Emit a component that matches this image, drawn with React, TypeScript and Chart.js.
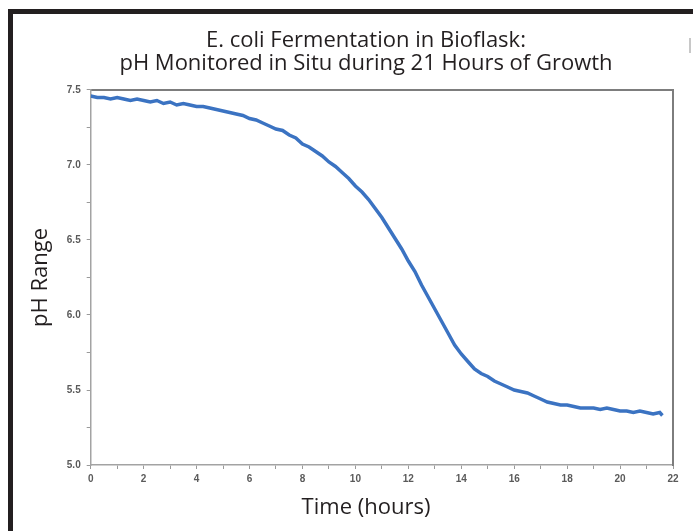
import React, { useEffect, useRef } from "react";
import { Chart, registerables } from "chart.js";

Chart.register(...registerables);

const TITLE_LINES = [
  "E. coli Fermentation in Bioflask:",
  "pH Monitored in Situ during 21 Hours of Growth",
];
const X_TITLE = "Time (hours)";
const Y_TITLE = "pH Range";

const TIME_HOURS = [
  0, 0.25, 0.5, 0.75, 1, 1.25, 1.5, 1.75,
  2, 2.25, 2.5, 2.75, 3, 3.25, 3.5, 3.75,
  4, 4.25, 4.5, 4.75, 5, 5.25, 5.5, 5.75,
  6, 6.25, 6.5, 6.75, 7, 7.25, 7.5, 7.75,
  8, 8.25, 8.5, 8.75, 9, 9.25, 9.5, 9.75,
  10, 10.25, 10.5, 10.75, 11, 11.25, 11.5, 11.75,
  12, 12.25, 12.5, 12.75, 13, 13.25, 13.5, 13.75,
  14, 14.25, 14.5, 14.75, 15, 15.25, 15.5, 15.75,
  16, 16.25, 16.5, 16.75, 17, 17.25, 17.5, 17.75,
  18, 18.25, 18.5, 18.75, 19, 19.25, 19.5, 19.75,
  20, 20.25, 20.5, 20.75, 21, 21.25, 21.5, 21.6,
];

const PH_VALUES = [
  7.46, 7.45, 7.45, 7.44, 7.45, 7.44, 7.43, 7.44,
  7.43, 7.42, 7.43, 7.41, 7.42, 7.40, 7.41, 7.40,
  7.39, 7.39, 7.38, 7.37, 7.36, 7.35, 7.34, 7.33,
  7.31, 7.30, 7.28, 7.26, 7.24, 7.23, 7.20, 7.18,
  7.14, 7.12, 7.09, 7.06, 7.02, 6.99, 6.95, 6.91,
  6.86, 6.82, 6.77, 6.71, 6.65, 6.58, 6.51, 6.44,
  6.36, 6.29, 6.20, 6.12, 6.04, 5.96, 5.88, 5.80,
  5.74, 5.69, 5.64, 5.61, 5.59, 5.56, 5.54, 5.52,
  5.50, 5.49, 5.48, 5.46, 5.44, 5.42, 5.41, 5.40,
  5.40, 5.39, 5.38, 5.38, 5.38, 5.37, 5.38, 5.37,
  5.36, 5.36, 5.35, 5.36, 5.35, 5.34, 5.35, 5.33,
];

const X_MIN = 0;
const X_MAX = 22;
const X_STEP = 1;
const X_LABEL_EVERY = 2;
const Y_MIN = 5.0;
const Y_MAX = 7.5;
const Y_STEP = 0.25;
const Y_LABEL_EVERY = 0.5;

const TEXT_FONT = "'Open Sans', 'Noto Sans', sans-serif";
const TICK_FONT = "'Liberation Sans', Arial, sans-serif";

export default function App() {
  const canvasRef = useRef<HTMLCanvasElement | null>(null);

  useEffect(() => {
    const canvas = canvasRef.current;
    if (!canvas) return;
    const points = TIME_HOURS.map((t, i) => ({ x: t, y: PH_VALUES[i] }));

    const chart = new Chart(canvas, {
      type: "line",
      data: {
        datasets: [
          {
            data: points,
            borderColor: "#3b73c2",
            backgroundColor: "#3b73c2",
            borderWidth: 3.5,
            pointRadius: 0,
            tension: 0,
            xAxisID: "x",
            yAxisID: "y",
          },
        ],
      },
      options: {
        animation: false,
        responsive: false,
        layout: { padding: { left: 25.5, right: -13.5, top: 0, bottom: 0 } },
        plugins: {
          legend: { display: false },
          tooltip: { enabled: false },
          title: {
            display: true,
            text: TITLE_LINES,
            color: "#231f20",
            font: { family: TEXT_FONT, size: 22, weight: "normal", lineHeight: 1.045 },
            padding: { top: 29.5, bottom: 14.5 },
          },
          subtitle: {
            display: true,
            position: "bottom",
            text: X_TITLE,
            color: "#231f20",
            font: { family: TEXT_FONT, size: 22, weight: "normal", lineHeight: 1.045 },
            padding: { top: 3.5, bottom: 11.5 },
          },
        },
        scales: {
          x: {
            type: "linear",
            position: "bottom",
            min: X_MIN,
            max: X_MAX,
            afterFit: (s: any) => {
              s.height = 28;
            },
            ticks: {
              stepSize: X_STEP,
              autoSkip: false,
              maxRotation: 0,
              padding: 4,
              color: "#5a5a5a",
              font: { family: TICK_FONT, size: 10, weight: "bold" },
              callback: (v: any) => (Math.round(v) % X_LABEL_EVERY === 0 ? String(v) : ""),
            },
            grid: {
              drawOnChartArea: false,
              drawTicks: true,
              tickLength: 4,
              color: "#9a9a9a",
            },
            border: { display: true, color: "#a3a3a3", width: 1.5 },
          },
          xTop: {
            type: "linear",
            position: "top",
            min: X_MIN,
            max: X_MAX,
            afterFit: (s: any) => {
              s.height = 0;
            },
            ticks: { display: false },
            grid: { display: false },
            border: { display: true, color: "#7d7d7d", width: 2 },
          },
          y: {
            type: "linear",
            position: "left",
            min: Y_MIN,
            max: Y_MAX,
            afterFit: (s: any) => {
              s.width = 65.2;
            },
            title: {
              display: true,
              text: Y_TITLE,
              color: "#231f20",
              font: { family: TEXT_FONT, size: 22, weight: "normal", lineHeight: 1.2 },
              padding: { top: 2.3, bottom: 4 },
            },
            ticks: {
              stepSize: Y_STEP,
              autoSkip: false,
              padding: 6,
              color: "#5a5a5a",
              font: { family: TICK_FONT, size: 10, weight: "bold" },
              callback: (v: any) => {
                const r = Math.abs(v / Y_LABEL_EVERY - Math.round(v / Y_LABEL_EVERY));
                return r < 1e-6 ? Number(v).toFixed(1) : "";
              },
            },
            grid: {
              drawOnChartArea: false,
              drawTicks: true,
              tickLength: 4,
              color: "#9a9a9a",
            },
            border: { display: true, color: "#a3a3a3", width: 1.5 },
          },
          yRight: {
            type: "linear",
            position: "right",
            min: Y_MIN,
            max: Y_MAX,
            afterFit: (s: any) => {
              s.width = 33.5;
            },
            ticks: { display: false },
            grid: { display: false },
            border: { display: true, color: "#7d7d7d", width: 2 },
          },
        },
      } as any,
    });

    return () => {
      chart.destroy();
    };
  }, []);

  return (
    <div
      style={{
        position: "fixed",
        left: 0,
        top: 0,
        width: 693,
        height: 531,
        background: "#ffffff",
        overflow: "hidden",
      }}
    >
      <canvas ref={canvasRef} width={693} height={531} style={{ display: "block", width: 693, height: 531 }} />
      <div style={{ position: "absolute", left: 8, top: 9, width: 685, height: 5, background: "#231f20" }} />
      <div style={{ position: "absolute", left: 8, top: 9, width: 5, height: 522, background: "#231f20" }} />
      <div style={{ position: "absolute", left: 689, top: 38, width: 2, height: 15, background: "#c8c8c8" }} />
    </div>
  );
}
